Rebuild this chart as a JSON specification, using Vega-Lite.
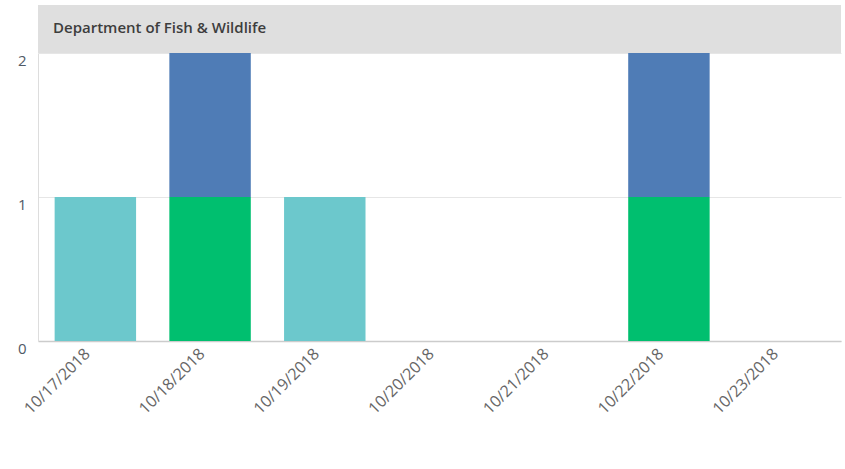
{
  "$schema": "https://vega.github.io/schema/vega-lite/v6.json",
  "padding": {"left": 5, "top": 5, "right": 4, "bottom": 5},
  "background": "white",
  "spacing": 0,
  "config": {"font": "Open Sans", "concat": {"spacing": 0}},
  "vconcat": [
    {
      "width": 803,
      "height": 48,
      "view": {"fill": "#dfdfdf", "stroke": null},
      "data": {"values": [{"title": "Department of Fish & Wildlife"}]},
      "mark": {"type": "text", "align": "left", "baseline": "middle", "font": "Open Sans", "fontSize": 15, "fontWeight": 600, "color": "#3d3d3d"},
      "encoding": {
        "text": {"field": "title"},
        "x": {"value": 15},
        "y": {"value": 23}
      }
    },
    {
      "width": 803,
      "height": 288,
      "view": {"stroke": null},
      "data": {
        "values": [
          {"date": "10/17/2018", "series": "Category A", "count": 1, "rank": 1},
          {"date": "10/18/2018", "series": "Category B", "count": 1, "rank": 2},
          {"date": "10/18/2018", "series": "Category C", "count": 1, "rank": 3},
          {"date": "10/19/2018", "series": "Category A", "count": 1, "rank": 1},
          {"date": "10/22/2018", "series": "Category B", "count": 1, "rank": 2},
          {"date": "10/22/2018", "series": "Category C", "count": 1, "rank": 3}
        ]
      },
      "mark": {"type": "bar"},
      "encoding": {
        "x": {
          "field": "date",
          "type": "ordinal",
          "title": null,
          "scale": {
            "domain": ["10/17/2018", "10/18/2018", "10/19/2018", "10/20/2018", "10/21/2018", "10/22/2018", "10/23/2018"],
            "paddingInner": 0.29,
            "paddingOuter": 0.145
          },
          "axis": {
            "labelAngle": -45,
            "labelAlign": "right",
            "labelBaseline": "middle",
            "labelFontSize": 16,
            "labelColor": "#666666",
            "labelPadding": 10,
            "labelOffset": -8,
            "ticks": false,
            "domainColor": "#cccccc",
            "domainWidth": 1.5
          }
        },
        "y": {
          "field": "count",
          "type": "quantitative",
          "stack": "zero",
          "title": null,
          "scale": {"domain": [0, 2], "nice": false},
          "axis": {
            "values": [0, 1, 2],
            "labelExpr": "format(datum.value, '.0f')",
            "labelOverlap": false,
            "labelFontSize": 15,
            "labelColor": "#505a66",
            "labelBaseline": "top",
            "labelPadding": 12,
            "ticks": false,
            "domainColor": "#dddddd",
            "grid": true,
            "gridColor": "#e6e6e6",
            "minExtent": 33
          }
        },
        "color": {
          "field": "series",
          "type": "nominal",
          "legend": null,
          "scale": {
            "domain": ["Category A", "Category B", "Category C"],
            "range": ["#6cc8cc", "#00bf6f", "#4f7cb6"]
          }
        },
        "order": {"field": "rank", "type": "quantitative"}
      }
    }
  ]
}
